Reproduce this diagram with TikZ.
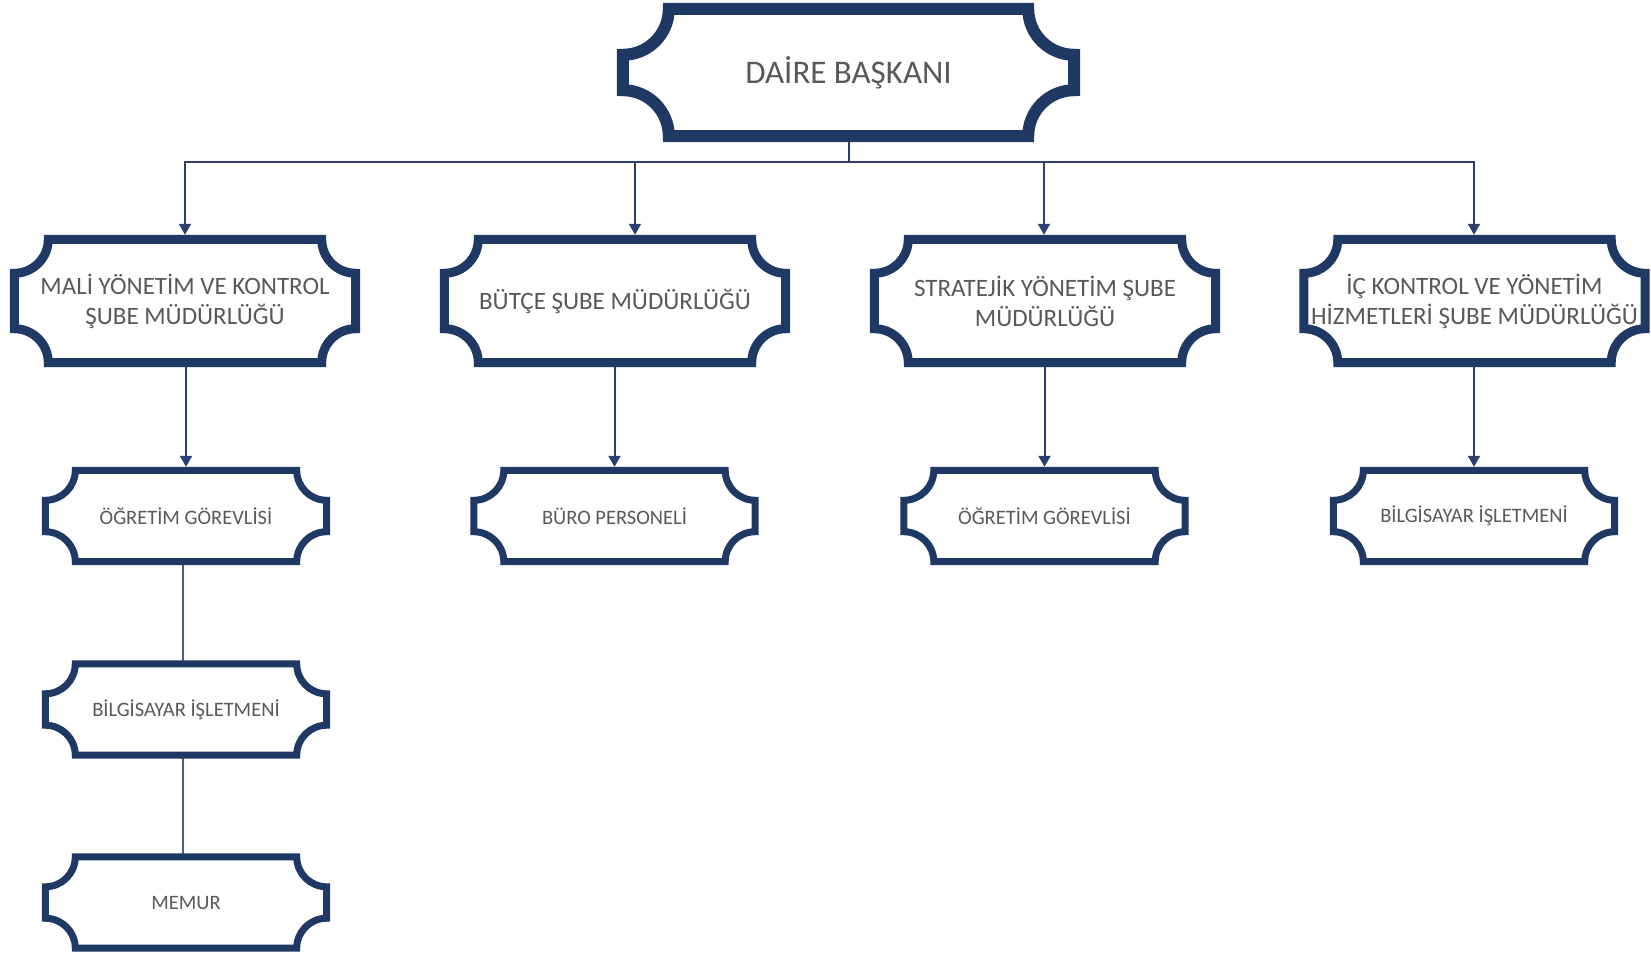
\documentclass[tikz,border=0pt]{standalone}
\usepackage{fontspec}
\setmainfont{Carlito}
\usetikzlibrary{arrows.meta,calc}
\definecolor{navy}{HTML}{1F3864}
\definecolor{conn}{HTML}{2B4070}
\definecolor{chain}{HTML}{4A6090}
\definecolor{txt}{HTML}{595959}
% #1 node name, #2 corner radius, #3 line width
\newcommand\plaqueframe[3]{%
  \draw[navy, line width=#3, line join=miter]
    let \p1=(#1.south west), \p2=(#1.north east) in
    (\x1+#2,\y2) -- (\x2-#2,\y2)
    arc[start angle=180,end angle=270,radius=#2]
    -- (\x2,\y1+#2)
    arc[start angle=90,end angle=180,radius=#2]
    -- (\x1+#2,\y1)
    arc[start angle=0,end angle=90,radius=#2]
    -- (\x1,\y2-#2)
    arc[start angle=270,end angle=360,radius=#2]
    -- cycle;}
\begin{document}
\begin{tikzpicture}[x=1pt,y=1pt,
  box/.style={rectangle, inner sep=0pt, text=txt, align=center},
  lvA/.style={box, minimum width=451pt, minimum height=127pt, font=\fontsize{33}{39}\selectfont},
  lvB/.style={box, minimum width=341pt, minimum height=123pt, font=\fontsize{25}{30}\selectfont},
  lvC/.style={box, minimum width=281pt, minimum height=91pt, font=\fontsize{20.5}{24}\selectfont},
  arrB/.style={draw=conn, line width=2pt, -{Triangle[width=12pt,length=11pt]}, shorten >=4.5pt},
  arrC/.style={draw=conn, line width=2pt, -{Triangle[width=12pt,length=11pt]}, shorten >=3.5pt},
  link/.style={draw=conn, line width=2pt},
  chainl/.style={draw=chain, line width=1.6pt}]
\fill[white] (0,0) rectangle (1651,-954);
\useasboundingbox (0,0) rectangle (1651,-954);

% nodes
\node[lvA] (top) at (848.5,-72.5) {DAİRE BAŞKANI};
\node[lvB] (mali) at (185,-301) {MALİ YÖNETİM VE KONTROL\\ŞUBE MÜDÜRLÜĞÜ};
\node[lvB] (butce) at (615,-301) {BÜTÇE ŞUBE MÜDÜRLÜĞÜ};
\node[lvB] (strat) at (1045,-301) {STRATEJİK YÖNETİM ŞUBE\\MÜDÜRLÜĞÜ};
\node[lvB] (ic) at (1474.5,-301) {İÇ KONTROL VE YÖNETİM\\HİZMETLERİ ŞUBE MÜDÜRLÜĞÜ};

\node[lvC] (ogr1) at (186,-516) {ÖĞRETİM GÖREVLİSİ};
\node[lvC] (buro) at (614.5,-516) {BÜRO PERSONELİ};
\node[lvC] (ogr2) at (1044.5,-516) {ÖĞRETİM GÖREVLİSİ};
\node[lvC] (bilg2) at (1474,-516) {BİLGİSAYAR İŞLETMENİ};
\node[lvC] (bilg1) at (186,-709.5) {BİLGİSAYAR İŞLETMENİ};
\node[lvC] (memur) at (186,-902.5) {MEMUR};

% bus
\coordinate (bus) at (848.5,-161.5);
\coordinate (jM) at (185,-161.5);
\coordinate (jB) at (635,-161.5);
\coordinate (jS) at (1044,-161.5);
\coordinate (jI) at (1474,-161.5);
\draw[link] (top.south) -- (bus);
\draw[link, line cap=rect] (jM) -- (jI);
\draw[arrB] (jM) -- (jM |- mali.north);
\draw[arrB] (jB) -- (jB |- butce.north);
\draw[arrB] (jS) -- (jS |- strat.north);
\draw[arrB] (jI) -- (jI |- ic.north);

% level 2 -> level 3
\draw[arrC] (mali.south -| ogr1.north) -- (ogr1.north);
\draw[arrC] (butce.south -| buro.north) -- (buro.north);
\draw[arrC] (strat.south -| ogr2.north) -- (ogr2.north);
\draw[arrC] (ic.south -| bilg2.north) -- (bilg2.north);

% chain
\draw[chainl] ([xshift=-3pt]ogr1.south) -- ([xshift=-3pt]bilg1.north);
\draw[chainl] ([xshift=-3pt]bilg1.south) -- ([xshift=-3pt]memur.north);

% frames
\plaqueframe{top}{46pt}{12pt}
\plaqueframe{mali}{34pt}{9pt}
\plaqueframe{butce}{34pt}{9pt}
\plaqueframe{strat}{34pt}{9pt}
\plaqueframe{ic}{34pt}{9pt}
\plaqueframe{ogr1}{30pt}{7pt}
\plaqueframe{buro}{30pt}{7pt}
\plaqueframe{ogr2}{30pt}{7pt}
\plaqueframe{bilg2}{30pt}{7pt}
\plaqueframe{bilg1}{30pt}{7pt}
\plaqueframe{memur}{30pt}{7pt}
\end{tikzpicture}
\end{document}
